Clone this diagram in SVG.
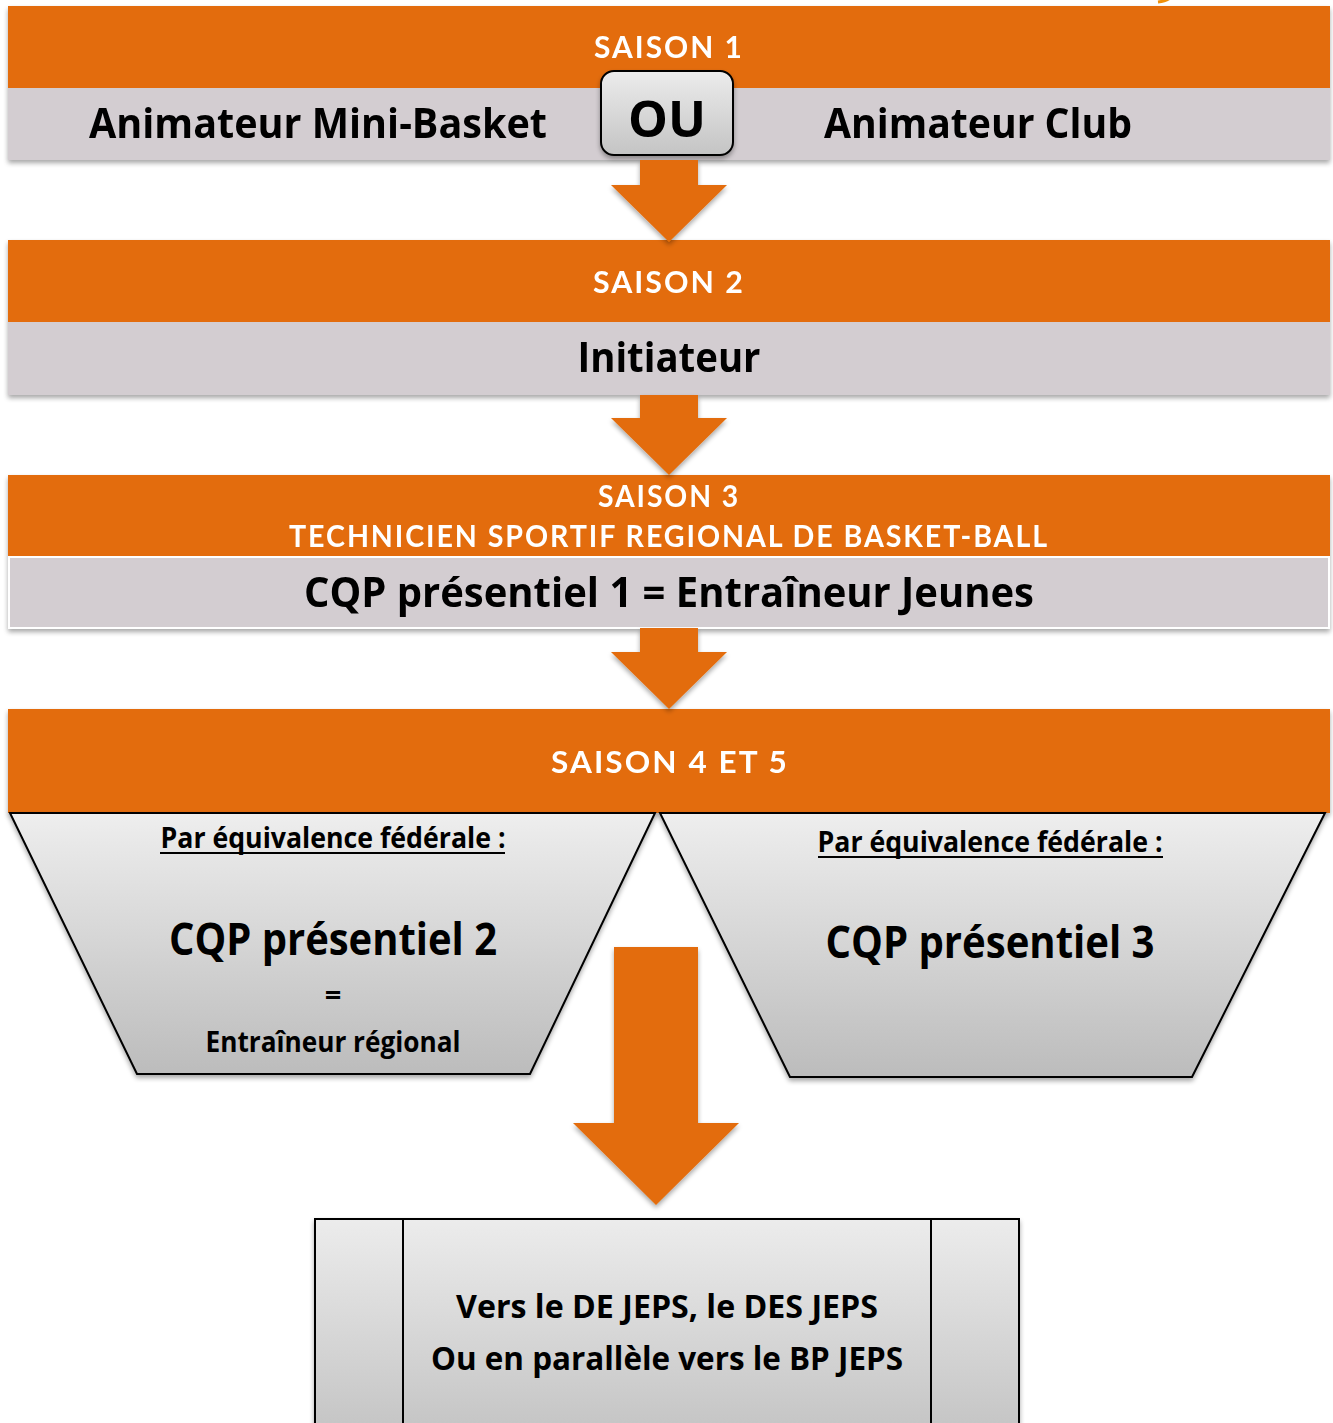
<svg xmlns="http://www.w3.org/2000/svg" width="1333" height="1423" viewBox="0 0 1333 1423">
<style>
.or{fill:#e36c0b}
.gr{fill:#d3cdd1}
.hd{font-family:Lato,"Open Sans",sans-serif;font-weight:700;fill:#fff;font-size:30px;letter-spacing:2px}
.tx{font-family:"Open Sans",Lato,sans-serif;font-weight:700;fill:#000}
.sh{filter:url(#shadow)}
</style>
<defs>
<filter id="shadow" x="-5%" y="-20%" width="110%" height="150%">
<feGaussianBlur in="SourceAlpha" stdDeviation="2.5"/>
<feOffset dx="0" dy="3" result="b"/>
<feComponentTransfer><feFuncA type="linear" slope="0.35"/></feComponentTransfer>
<feMerge><feMergeNode/><feMergeNode in="SourceGraphic"/></feMerge>
</filter>
<linearGradient id="g1" x1="0" y1="0" x2="0" y2="1">
<stop offset="0" stop-color="#eeeeee"/>
<stop offset="1" stop-color="#bcbcbc"/>
</linearGradient>
<linearGradient id="g2" x1="0" y1="0" x2="0" y2="1">
<stop offset="0" stop-color="#ececec"/>
<stop offset="1" stop-color="#c4c4c4"/>
</linearGradient>
</defs>
<rect width="1333" height="1423" fill="#fff"/>
<path d="M1158 2 Q1166 1 1170 -2" stroke="#f0900a" stroke-width="3" fill="none"/>

<g id="saison1" class="sh">
<rect class="gr" x="8" y="86" width="1322" height="74"/>
<rect class="or" x="8" y="6" width="1322" height="82"/>
<text class="hd" x="669" y="58" text-anchor="middle" textLength="150" lengthAdjust="spacingAndGlyphs">SAISON 1</text>
<text class="tx" x="318" y="138" font-size="42" text-anchor="middle" textLength="458" lengthAdjust="spacingAndGlyphs">Animateur Mini-Basket</text>
<text class="tx" x="978" y="138" font-size="42" text-anchor="middle" textLength="308" lengthAdjust="spacingAndGlyphs">Animateur Club</text>
</g>
<g id="ou">
<rect x="601" y="71" width="132" height="84" rx="13" fill="url(#g2)" stroke="#000" stroke-width="2" class="sh"/>
<text class="tx" x="667" y="137" font-size="50" text-anchor="middle" textLength="78" lengthAdjust="spacingAndGlyphs">OU</text>
</g>

<g id="saison2" class="sh">
<rect class="gr" x="8" y="320" width="1322" height="75"/>
<rect class="or" x="8" y="240" width="1322" height="82"/>
<text class="hd" x="669" y="293" text-anchor="middle" textLength="152" lengthAdjust="spacingAndGlyphs">SAISON 2</text>
<text class="tx" x="669" y="372" font-size="42" text-anchor="middle" textLength="183" lengthAdjust="spacingAndGlyphs">Initiateur</text>
</g>

<g id="saison3" class="sh">
<rect class="gr" x="9" y="557" width="1320" height="71" stroke="#fff" stroke-width="2"/>
<rect class="or" x="8" y="475" width="1322" height="81"/>
<text class="hd" x="669" y="507" text-anchor="middle" textLength="142" lengthAdjust="spacingAndGlyphs">SAISON 3</text>
<text class="hd" x="669" y="547" text-anchor="middle" textLength="760" lengthAdjust="spacingAndGlyphs">TECHNICIEN SPORTIF REGIONAL DE BASKET-BALL</text>
<text class="tx" x="669" y="607" font-size="42" text-anchor="middle" textLength="730" lengthAdjust="spacingAndGlyphs">CQP présentiel 1 = Entraîneur Jeunes</text>
</g>

<g id="saison45" class="sh">
<rect class="or" x="8" y="709" width="1322" height="104"/>
<text class="hd" x="670" y="773" text-anchor="middle" textLength="238" lengthAdjust="spacingAndGlyphs">SAISON 4 ET 5</text>
</g>

<g id="cqp2">
<polygon points="10,813 655,813 530,1074 137,1074" fill="url(#g1)" stroke="#000" stroke-width="2" class="sh"/>
<text class="tx" x="333" y="848" font-size="29" text-anchor="middle" textLength="345" lengthAdjust="spacingAndGlyphs">Par équivalence fédérale :</text>
<line x1="160" y1="853" x2="505" y2="853" stroke="#000" stroke-width="2"/>
<text class="tx" x="333" y="955" font-size="44" text-anchor="middle" textLength="328" lengthAdjust="spacingAndGlyphs">CQP présentiel 2</text>
<text class="tx" x="333" y="1005" font-size="29" text-anchor="middle">=</text>
<text class="tx" x="333" y="1052" font-size="29" text-anchor="middle" textLength="255" lengthAdjust="spacingAndGlyphs">Entraîneur régional</text>
</g>

<g id="cqp3">
<polygon points="660,813 1325,813 1192,1077 790,1077" fill="url(#g1)" stroke="#000" stroke-width="2" class="sh"/>
<text class="tx" x="990" y="852" font-size="29" text-anchor="middle" textLength="345" lengthAdjust="spacingAndGlyphs">Par équivalence fédérale :</text>
<line x1="818" y1="857" x2="1163" y2="857" stroke="#000" stroke-width="2"/>
<text class="tx" x="990" y="958" font-size="44" text-anchor="middle" textLength="329" lengthAdjust="spacingAndGlyphs">CQP présentiel 3</text>
</g>

<g id="jeps">
<rect x="315" y="1219" width="704" height="215" fill="url(#g2)" stroke="#000" stroke-width="2" class="sh"/>
<line x1="403" y1="1219" x2="403" y2="1423" stroke="#000" stroke-width="2"/>
<line x1="931" y1="1219" x2="931" y2="1423" stroke="#000" stroke-width="2"/>
<text class="tx" x="667" y="1318" font-size="32" text-anchor="middle" textLength="422" lengthAdjust="spacingAndGlyphs">Vers le DE JEPS, le DES JEPS</text>
<text class="tx" x="667" y="1370" font-size="32" text-anchor="middle" textLength="472" lengthAdjust="spacingAndGlyphs">Ou en parallèle vers le BP JEPS</text>
</g>

<g id="connectors" class="or">
<polygon class="sh" points="640,160 698,160 698,185 727,185 669,242 611,185 640,185"/>
<polygon class="sh" points="640,395 698,395 698,418 727,418 669,475 611,418 640,418"/>
<polygon class="sh" points="640,628 698,628 698,652 727,652 669,709 611,652 640,652"/>
<polygon class="sh" points="614,947 698,947 698,1123 739,1123 656,1205 573,1123 614,1123"/>
</g>
</svg>
